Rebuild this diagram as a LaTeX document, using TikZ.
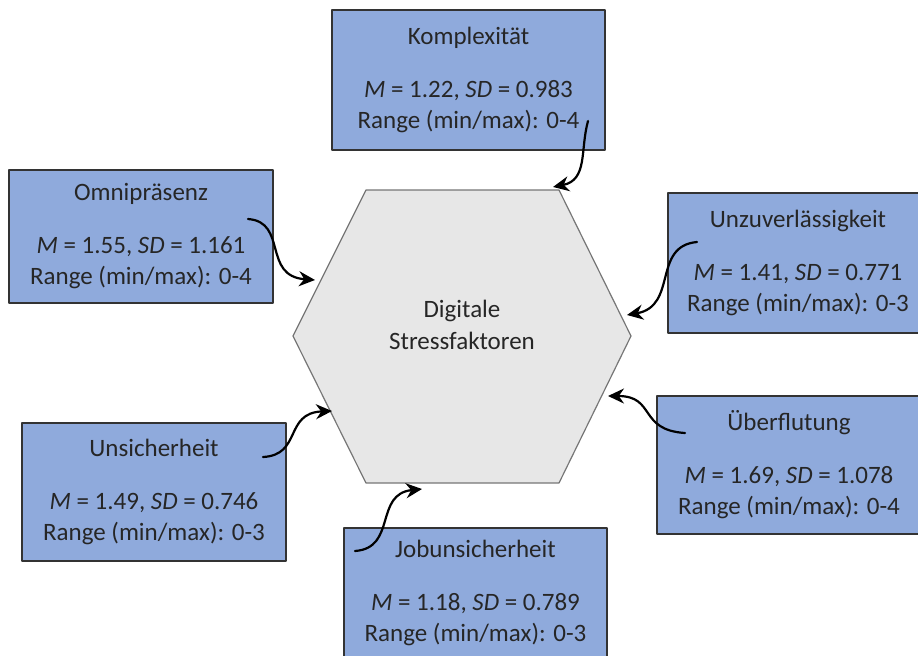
\documentclass[tikz,border=0pt]{standalone}
\usepackage{fontspec}
\setmainfont{Carlito}
\usetikzlibrary{arrows.meta}
\definecolor{boxblau}{RGB}{143,170,220}
\definecolor{hexgrau}{RGB}{231,231,231}
\definecolor{randgrau}{RGB}{118,118,118}
\tikzset{
  faktor/.style={draw=black!80, line width=0.6pt, fill=boxblau, align=center,
    text=black!85, font=\fontsize{12.5}{15.5}\selectfont, inner sep=0pt},
  pfeil/.style={line width=1.1pt, -{Stealth[length=8pt,width=7.5pt]}},
}
\newcommand{\werte}[3]{#1\\[11pt]\textit{M} = #2, \textit{SD} = #3\\}

\begin{document}
\begin{tikzpicture}[x=0.5pt,y=-0.5pt,line cap=round,line join=round]
  \useasboundingbox (0,0) rectangle (918,655);
  \clip (0,0) rectangle (918,655);
  % Sechseck in der Mitte
  \draw[fill=hexgrau, draw=randgrau, line width=0.6pt]
    (366,190) -- (559,190) -- (631,336) -- (559,483) -- (366,483) -- (293,336) -- cycle;
  \node[align=center, text=black!85, font=\fontsize{12.5}{16}\selectfont] (mitte) at (462,325)
    {Digitale\\Stressfaktoren};
  % Faktoren
  \node[faktor, minimum width=136.5pt, minimum height=70pt] (kompl) at (468.5,80)
    {\werte{Komplexität}{1.22}{0.983}Range (min/max): 0-4};
  \node[faktor, minimum width=132pt, minimum height=66.5pt] (omni) at (141,236.5)
    {\werte{Omnipräsenz}{1.55}{1.161}Range (min/max): 0-4};
  \node[faktor, minimum width=130pt, minimum height=70pt] (unzu) at (798,263)
    {\werte{Unzuverlässigkeit}{1.41}{0.771}Range (min/max): 0-3};
  \node[faktor, minimum width=132pt, minimum height=69pt] (ueber) at (789,465)
    {\werte{Überflutung}{1.69}{1.078}Range (min/max): 0-4};
  \node[faktor, minimum width=132pt, minimum height=69pt] (unsi) at (154,492)
    {\werte{Unsicherheit}{1.49}{0.746}Range (min/max): 0-3};
  \node[faktor, minimum width=131.5pt, minimum height=65pt] (job) at (475.5,593)
    {\werte{Jobunsicherheit}{1.18}{0.789}Range (min/max): 0-3};
  % Pfeile
  \coordinate (kompl-a) at (588,121);  \coordinate (kompl-z) at (553,187);
  \coordinate (omni-a) at (248,219);   \coordinate (omni-z) at (315,280);
  \coordinate (unzu-a) at (697,242);   \coordinate (unzu-z) at (627,315);
  \coordinate (ueber-a) at (685,433);  \coordinate (ueber-z) at (608,396);
  \coordinate (unsi-a) at (263,457);   \coordinate (unsi-z) at (332,411);
  \coordinate (job-a) at (355,551);    \coordinate (job-z) at (422,489);
  \draw[pfeil] (kompl-a) .. controls (580,150) and (588,180) .. (kompl-z);
  \draw[pfeil] (omni-a) .. controls (288,222) and (262,276) .. (omni-z);
  \draw[pfeil] (unzu-a) .. controls (652,246) and (678,306) .. (unzu-z);
  \draw[pfeil] (ueber-a) .. controls (638,430) and (656,396) .. (ueber-z);
  \draw[pfeil] (unsi-a) .. controls (302,455) and (284,413) .. (unsi-z);
  \draw[pfeil] (job-a) .. controls (397,548) and (374,494) .. (job-z);
\end{tikzpicture}
\end{document}
